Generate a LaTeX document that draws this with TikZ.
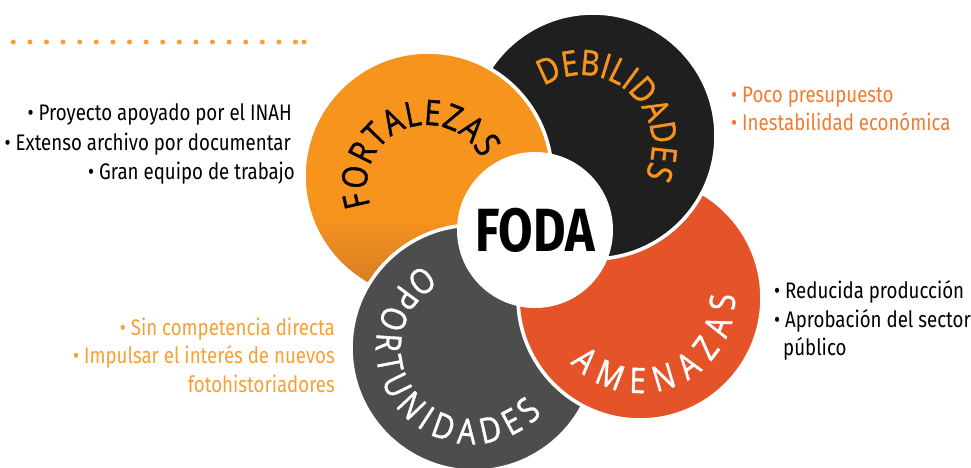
\documentclass[tikz,border=0pt]{standalone}
\usepackage{fontspec}
\usetikzlibrary{decorations.text,calc}
\newfontfamily\condfont{Fira Sans}[FakeStretch=0.83]
\newfontfamily\fodafont{Fira Sans}[FakeStretch=0.82]
\newfontfamily\labelfont{Open Sans}[FakeStretch=0.84,FakeBold=1.2]
\definecolor{cOrange}{HTML}{F7941E}
\definecolor{cOrangeDark}{HTML}{CF7726}
\definecolor{cBlack}{HTML}{1F1F1F}
\definecolor{cRed}{HTML}{E45428}
\definecolor{cGray}{HTML}{4D4D4D}
\definecolor{cTxtRed}{HTML}{F47A30}
\definecolor{cTxtOrange}{HTML}{F7A033}
\definecolor{cDot}{HTML}{F7A033}
\pgfdeclareverticalshading{orangeshade}{100bp}{color(0bp)=(cOrangeDark); color(25bp)=(cOrangeDark); color(42bp)=(cOrange); color(100bp)=(cOrange)}
\tikzset{
  circ/.style={draw=white, line width=3.6pt},
  txt/.style={inner sep=0pt, font=\condfont\fontsize{22.5}{25}\selectfont},
  arclabel/.style={decorate, decoration={text along path, text align=fit to path, text color=#1}}
}
\newcommand{\lblfmt}{\labelfont\fontsize{35}{35}\selectfont}
\begin{document}
\begin{tikzpicture}[x=1pt,y=1pt]
\useasboundingbox (0,0) rectangle (971,467);
% circle centres
\coordinate (oc) at (428,291);
\coordinate (bc) at (593,331);
\coordinate (rc) at (640,169);
\coordinate (gc) at (474,119);
\coordinate (wc) at (535,237);
% text arc centres
\coordinate (ftc) at (427,282);
\coordinate (dtc) at (582,322);
\coordinate (atc) at (640,169);
\coordinate (otc) at (472,119);
% dotted line
\foreach \i in {0,...,17} \fill[cDot] (13.3+16.6*\i,425) circle[radius=2.5];
\fill[cDot] (304,425) circle[radius=2.5];
% circles (pinwheel)
\draw[circ, fill=cRed] (rc) circle[radius=122];
\draw[circ, fill=cBlack] (bc) circle[radius=123];
\path[circ, shading=orangeshade] (oc) circle[radius=124];
\draw[circ, fill=cGray] (gc) circle[radius=123];
\begin{scope}
  \clip (500,-10) rectangle (640,197);
  \draw[circ, fill=cRed] (rc) circle[radius=122];
\end{scope}
% centre
\node[circle, fill=white, minimum size=156pt, inner sep=0pt,
      font=\fodafont\bfseries\fontsize{61}{61}\selectfont] (foda) at (wc) {FODA};
% curved labels
\path[arclabel=black, decoration={text={|\lblfmt|FORTALEZAS}}]
  ($(ftc)+(200:60)$) arc[start angle=200, end angle=26, radius=60];
\path[arclabel=cOrange, decoration={text={|\lblfmt|DEBILIDADES}}]
  ($(dtc)+(123:70)$) arc[start angle=123, end angle=-23, radius=70];
\path[arclabel=white, decoration={text={|\lblfmt|AMENAZAS}}]
  ($(atc)+(223:95)$) arc[start angle=223, end angle=362, radius=95];
\path[arclabel=white, decoration={text={|\lblfmt|OPORTUNIDADES}}]
  ($(otc)+(120:96)$) arc[start angle=120, end angle=317, radius=96];
% side texts
\node[txt, anchor=base east] (s1) at (292,347) {• Proyecto apoyado por el INAH};
\node[txt, anchor=base east] (s2) at (291,317) {• Extenso archivo por documentar};
\node[txt, anchor=base east] (s3) at (295,288) {• Gran equipo de trabajo};
\node[txt, anchor=base west, text=cTxtRed] (d1) at (731,365) {• Poco presupuesto};
\node[txt, anchor=base west, text=cTxtRed] (d2) at (731,337) {• Inestabilidad económica};
\node[txt, anchor=base west] (a1) at (774,169) {• Reducida producción};
\node[txt, anchor=base west] (a2) at (774,140) {• Aprobación del sector};
\node[txt, anchor=base west] (a3) at (783,112) {público};
\node[txt, anchor=base east, text=cTxtOrange] (o1) at (335,132) {• Sin competencia directa};
\node[txt, anchor=base east, text=cTxtOrange] (o2) at (335,104) {• Impulsar el interés de nuevos};
\node[txt, anchor=base east, text=cTxtOrange] (o3) at (335,75) {fotohistoriadores};
\end{tikzpicture}
\end{document}
